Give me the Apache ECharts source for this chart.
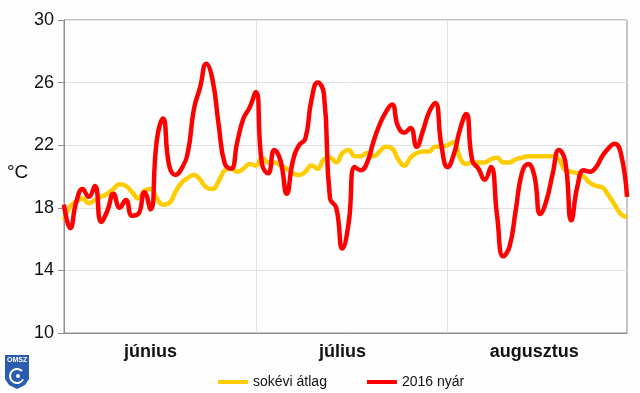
<!DOCTYPE html>
<html>
<head>
<meta charset="utf-8">
<script src="https://cdn.jsdelivr.net/npm/echarts@6/dist/echarts.min.js"></script>
<style>
html,body{margin:0;padding:0;background:#fdfefd;}
#chart{width:640px;height:393px;}
</style>
</head>
<body>
<div id="chart"></div>
<script>
// Day categories: May 31 .. Aug 30
const monthNames = ['június', 'július', 'augusztus'];
const days = ['05-31'];
[[6, 30], [7, 31], [8, 30]].forEach(function (m) {
  for (let d = 1; d <= m[1]; d++) days.push('0' + m[0] + '-' + (d < 10 ? '0' + d : d));
});

const yTicks = [10, 14, 18, 22, 26, 30];

const avgSeries = [
  17.2,18.1,18.4,18.6,18.3,18.5,18.7,18.9,19.2,19.5,
  19.4,19.0,18.6,19.1,19.2,18.6,18.2,18.3,19.0,19.6,
  19.9,20.1,19.8,19.3,19.2,19.7,20.4,20.5,20.3,20.5,
  20.8,20.7,21.2,20.9,20.9,20.7,20.5,20.2,20.1,20.3,
  20.7,20.5,21.1,21.2,20.9,21.5,21.7,21.3,21.3,21.5,
  21.3,21.6,21.9,21.8,21.1,20.7,21.2,21.5,21.6,21.6,
  21.9,21.9,22.0,22.2,21.2,20.8,20.9,20.9,20.9,21.1,
  21.2,20.9,20.9,21.1,21.2,21.3,21.3,21.3,21.3,21.3,
  21.1,20.4,20.3,20.2,20.0,19.6,19.4,19.3,18.8,18.2,
  17.6,17.4
];

const summer2016 = [
  18.2,16.7,18.4,19.2,18.7,19.4,17.1,17.8,18.9,18.0,
  18.5,17.5,17.6,19.0,17.9,22.3,23.7,20.7,20.1,20.5,
  21.5,24.3,25.7,27.2,26.2,23.3,20.8,20.5,22.2,23.7,
  24.4,25.4,20.8,20.2,21.7,21.0,18.9,21.0,22.0,22.4,
  24.9,26.0,25.3,18.6,18.0,15.4,17.0,20.6,20.4,20.9,
  22.2,23.3,24.1,24.6,23.2,22.8,23.1,21.9,22.9,24.1,
  24.7,22.0,20.6,21.4,23.0,24.0,21.0,20.5,19.8,20.6,
  17.5,14.9,15.5,17.8,20.2,20.8,20.1,17.6,18.5,20.2,
  21.7,21.0,17.2,19.4,20.4,20.3,20.6,21.3,21.8,22.1,
  21.5,18.7
];

const monthLabelIdx = [14, 45, 76];
const monthStartIdx = [31, 62];

const chart = echarts.init(document.getElementById('chart'), null, {renderer: 'canvas'});
chart.setOption({
  animation: false,
  backgroundColor: '#fdfefd',
  textStyle: {fontFamily: 'Liberation Sans, Arial, sans-serif'},
  grid: {left: 64, right: 13, top: 20, bottom: 60, show: true, borderColor: '#8e8e8e', borderWidth: 1},
  legend: {
    left: 213, top: 370,
    icon: 'rect', itemWidth: 30, itemHeight: 4, itemGap: 40,
    textStyle: {fontSize: 14, color: '#111', fontFamily: 'Liberation Sans, Arial, sans-serif'},
    data: ['sokévi átlag', '2016 nyár']
  },
  xAxis: {
    type: 'category',
    data: days,
    boundaryGap: false,
    axisLine: {lineStyle: {color: '#8e8e8e'}},
    axisTick: {show: false},
    axisLabel: {
      interval: function (i) { return monthLabelIdx.indexOf(i) >= 0; },
      formatter: function (v, i) { const k = monthLabelIdx.indexOf(i); return k >= 0 ? monthNames[k] : ''; },
      fontSize: 18, fontWeight: 'bold', color: '#111', margin: 10
    },
    splitLine: {
      show: true,
      interval: function (i) { return monthStartIdx.indexOf(i) >= 0; },
      lineStyle: {color: '#e3e3e3', width: 1}
    }
  },
  yAxis: {
    type: 'value', min: yTicks[0], max: yTicks[yTicks.length - 1], interval: 4,
    axisLine: {show: true, lineStyle: {color: '#8e8e8e'}},
    axisTick: {show: true, length: 6, lineStyle: {color: '#8e8e8e'}},
    axisLabel: {fontSize: 18, color: '#111', margin: 10},
    splitLine: {lineStyle: {color: '#e3e3e3', width: 1}}
  },
  graphic: [
    {type: 'text', left: 7, top: 163, style: {text: '°C', fontSize: 19, fill: '#111', fontFamily: 'Liberation Sans, Arial, sans-serif'}},
    {type: 'group', left: 5, top: 355, children: [
      {type: 'polygon', shape: {points: [[0,0],[24,0],[24,24],[20,30],[12,34],[4,30],[0,24]]}, style: {fill: '#2a5db0'}},
      {type: 'text', x: 2, y: 2, style: {text: 'OMSZ', fontSize: 7, fontWeight: 'bold', fill: '#fff', fontFamily: 'Liberation Sans, Arial, sans-serif'}},
      {type: 'arc', shape: {cx: 12, cy: 21, r: 7, startAngle: 0.5, endAngle: 5.5}, style: {stroke: '#fff', lineWidth: 2, fill: 'none'}},
      {type: 'circle', shape: {cx: 13, cy: 21, r: 2}, style: {fill: '#fff'}}
    ]}
  ],
  series: [
    {name: 'sokévi átlag', type: 'line', data: avgSeries, smooth: 0.5, showSymbol: false,
     lineStyle: {color: '#ffcc00', width: 4.5}, itemStyle: {color: '#ffcc00'}},
    {name: '2016 nyár', type: 'line', data: summer2016, smooth: 0.5, showSymbol: false,
     lineStyle: {color: '#ff0000', width: 4.5}, itemStyle: {color: '#ff0000'}}
  ]
});
</script>
</body>
</html>
